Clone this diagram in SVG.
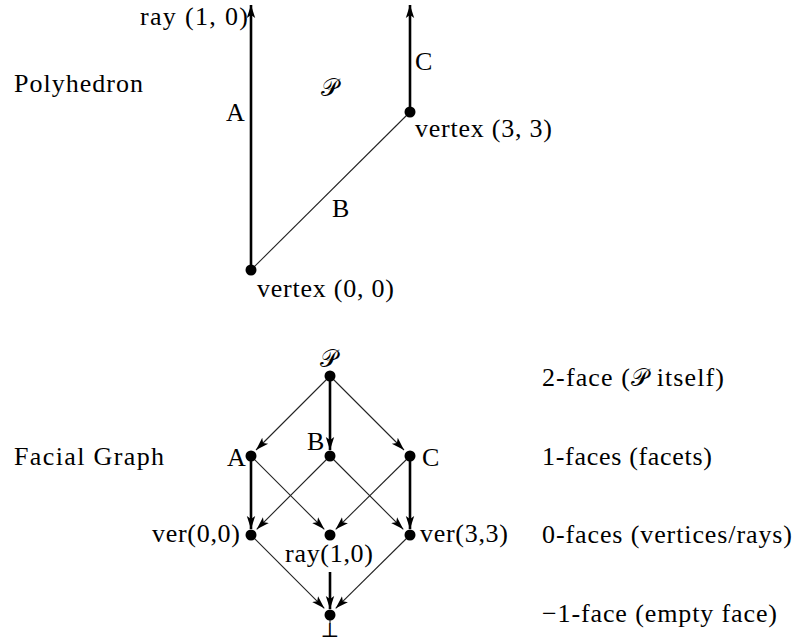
<svg xmlns="http://www.w3.org/2000/svg" width="794" height="644" viewBox="0 0 794 644">
<style>
text{font-family:"Liberation Serif","DejaVu Serif",serif;font-size:26px;fill:#000}
.scr{font-family:"DejaVu Serif","DejaVu Sans","Noto Sans",serif;font-style:normal;font-size:24px}
.thin{stroke:#222;stroke-width:1.1;fill:none}
.thick{stroke:#000;stroke-width:2.6;fill:none}
.dot{fill:#000}
</style>
<defs>
<marker id="ah" markerUnits="userSpaceOnUse" markerWidth="14" markerHeight="10" viewBox="0 0 14 10" refX="13" refY="5" orient="auto">
<path d="M0,0.8 L13,5 L0,9.2 L3,5 Z" fill="#000"/>
</marker>
</defs>
<rect width="794" height="644" fill="#fff"/>

<g id="connectors">
<line class="thick" x1="251" y1="270" x2="251" y2="5" marker-end="url(#ah)"/>
<line class="thick" x1="410" y1="112" x2="410" y2="5" marker-end="url(#ah)"/>
<line class="thin" x1="251" y1="270" x2="410" y2="112"/>

<line class="thin" x1="330" y1="376" x2="256" y2="450" marker-end="url(#ah)"/>
<line class="thick" x1="330" y1="376" x2="330" y2="450" marker-end="url(#ah)"/>
<line class="thin" x1="330" y1="376" x2="404" y2="450" marker-end="url(#ah)"/>

<line class="thick" x1="251" y1="456" x2="251" y2="529" marker-end="url(#ah)"/>
<line class="thin" x1="251" y1="456" x2="324.3" y2="529.3" marker-end="url(#ah)"/>
<line class="thin" x1="330" y1="456" x2="256.7" y2="529.3" marker-end="url(#ah)"/>
<line class="thin" x1="330" y1="456" x2="403.3" y2="529.3" marker-end="url(#ah)"/>
<line class="thin" x1="410" y1="456" x2="335.7" y2="529.3" marker-end="url(#ah)"/>
<line class="thick" x1="410" y1="456" x2="410" y2="529" marker-end="url(#ah)"/>

<line class="thin" x1="251" y1="535" x2="324.3" y2="608.3" marker-end="url(#ah)"/>
<line class="thick" x1="330" y1="572" x2="330" y2="609" marker-end="url(#ah)"/>
<line class="thin" x1="410" y1="535" x2="335.7" y2="608.3" marker-end="url(#ah)"/>
<line class="thin" x1="330" y1="615" x2="330" y2="624"/>
</g>

<g id="polyhedron-title"><text x="14" y="92" textLength="129">Polyhedron</text></g>
<g id="ray10"><text x="140" y="25" textLength="108">ray (1, 0)</text></g>
<g id="labelA-top"><text x="226" y="121">A</text></g>
<g id="labelP-top"><text class="scr" x="329" y="96" text-anchor="middle">𝒫</text></g>
<g id="labelC-top"><text x="415" y="70">C</text></g>
<g id="labelB-top"><text x="332" y="217">B</text></g>
<g id="vertex33"><circle class="dot" cx="410" cy="112" r="5.5"/><text x="415" y="137" textLength="137">vertex (3, 3)</text></g>
<g id="vertex00"><circle class="dot" cx="251" cy="270" r="5.5"/><text x="257" y="297" textLength="137">vertex (0, 0)</text></g>

<g id="facial-title"><text x="14" y="465" textLength="150">Facial Graph</text></g>

<g id="nodeP"><circle class="dot" cx="330" cy="376" r="5.5"/><text class="scr" x="328" y="367" text-anchor="middle">𝒫</text></g>
<g id="nodeA"><circle class="dot" cx="251" cy="456" r="5.5"/><text x="227" y="466">A</text></g>
<g id="nodeB"><circle class="dot" cx="330" cy="456" r="5.5"/><text x="307" y="450">B</text></g>
<g id="nodeC"><circle class="dot" cx="410" cy="456" r="5.5"/><text x="422" y="466">C</text></g>
<g id="nodeVer00"><circle class="dot" cx="251" cy="535" r="5.5"/><text x="152" y="542" textLength="88">ver(0,0)</text></g>
<g id="nodeRay10"><circle class="dot" cx="330" cy="535" r="5.5"/><text x="285" y="562" textLength="88">ray(1,0)</text></g>
<g id="nodeVer33"><circle class="dot" cx="410" cy="535" r="5.5"/><text x="420" y="542" textLength="88">ver(3,3)</text></g>
<g id="nodeBottom"><circle class="dot" cx="330" cy="615" r="5.5"/><text x="330" y="637" text-anchor="middle" style="font-size:20px">⊥</text></g>

<g id="rank-labels">
<text x="542" y="386" textLength="182">2-face (<tspan class="scr">𝒫</tspan> itself)</text>
<text x="542" y="465" textLength="170">1-faces (facets)</text>
<text x="542" y="543" textLength="250">0-faces (vertices/rays)</text>
<text x="542" y="622" textLength="235">−1-face (empty face)</text>
</g>
</svg>
